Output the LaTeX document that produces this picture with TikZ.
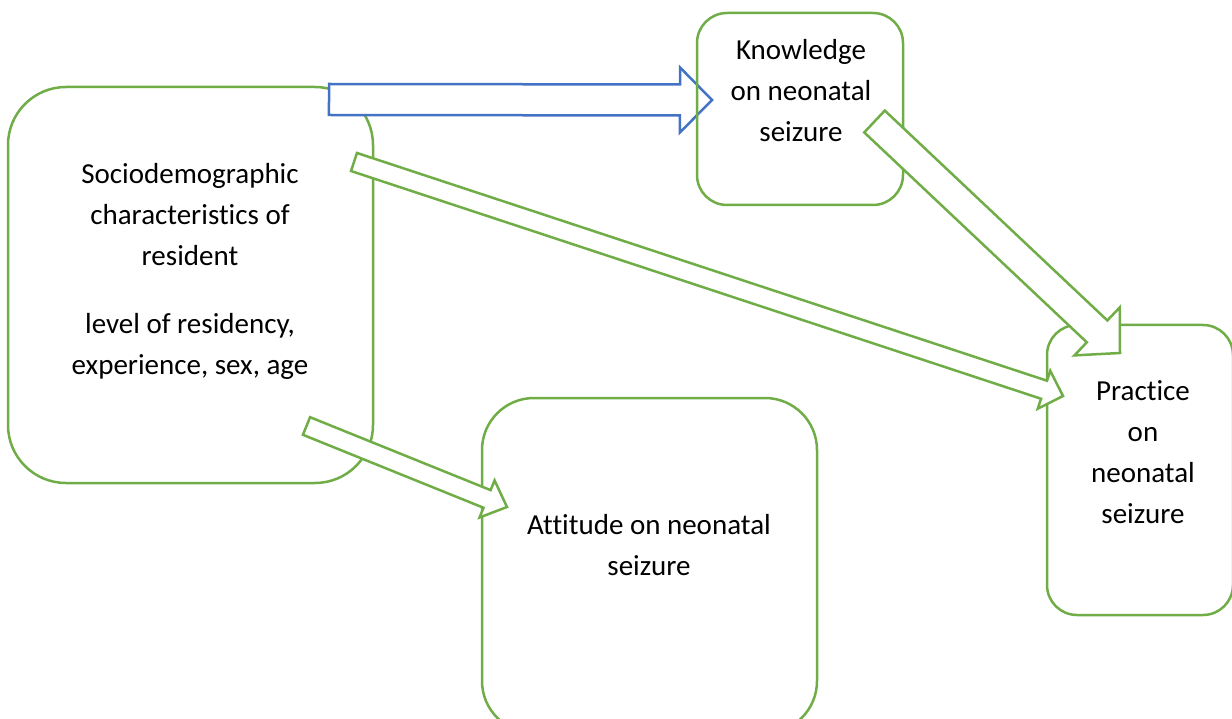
\documentclass[tikz,border=0pt]{standalone}
\usepackage{fontspec}
\setmainfont{Carlito}[Ligatures=CommonOff]
\usetikzlibrary{calc}
\definecolor{boxgreen}{HTML}{70AD47}
\definecolor{arrowblue}{HTML}{4472C4}

\tikzset{
  box/.style={draw=boxgreen, line width=2.5pt, rounded corners=#1, inner sep=0pt},
  box/.default=30pt,
  boxtext/.style={font=\fontsize{29}{41}\selectfont, align=center, anchor=base, inner sep=0pt},
  greenarrow/.style={draw=boxgreen, fill=white, line width=2.5pt},
  bluearrow/.style={draw=arrowblue, fill=white, line width=2.5pt},
}

% block arrow: style, tail, tip, half shaft, half head, head length
\newcommand{\blockarrow}[6]{%
  \coordinate (ba-base) at ($(#3)!#6!(#2)$);
  \draw[#1] ($(#2)!#4!90:(#3)$) -- ($(ba-base)!#4!90:(#3)$) -- ($(ba-base)!#5!90:(#3)$) -- (#3)
    -- ($(ba-base)!#5!-90:(#3)$) -- ($(ba-base)!#4!-90:(#3)$) -- ($(#2)!#4!-90:(#3)$) -- cycle;
}

\begin{document}
\begin{tikzpicture}[x=1pt, y=-1pt]

\clip (0,0) rectangle (1232,719);

% boxes
\node [box=58pt, minimum width=365pt, minimum height=396pt] (socio) at (190.5,285) {};
\node [box=52pt, minimum width=335pt, minimum height=335pt] (att) at (649.5,565.5) {};
\node [box=30pt, minimum width=186pt, minimum height=290pt] (pract) at (1140,470) {};

% texts (base = last line)
\node [boxtext] (socio-text) at (190,374) {Sociodemographic\\characteristics of\\resident\\[27pt] level of residency,\\experience, sex, age};
\node [boxtext] (att-text) at (649,575) {Attitude on neonatal\\seizure};
\node [boxtext] (pract-text) at (1143,523) {Practice\\on\\neonatal\\seizure};
\node [boxtext] (know-text) at (801,142) {Knowledge\\on neonatal\\seizure};

% arrow ends
\coordinate (s2k-tail) at (329,99.5);
\coordinate (s2k-tip) at (712,100);
\coordinate (k2p-tail) at (874.5,121.5);
\coordinate (k2p-tip) at (1120,353);
\coordinate (s2p-tail) at (354,162);
\coordinate (s2p-tip) at (1063,396);
\coordinate (s2a-tail) at (306.5,426);
\coordinate (s2a-tip) at (507,507);

\blockarrow{bluearrow}{s2k-tail}{s2k-tip}{15.5pt}{32.5pt}{32pt}

\node [box=30pt, minimum width=206pt, minimum height=192pt] (know) at (800,109) {};

\blockarrow{greenarrow}{k2p-tail}{k2p-tip}{15pt}{33pt}{31.5pt}
\blockarrow{greenarrow}{s2p-tail}{s2p-tip}{9.5pt}{20pt}{20pt}
\blockarrow{greenarrow}{s2a-tail}{s2a-tip}{9.5pt}{20pt}{21.5pt}

\end{tikzpicture}
\end{document}
